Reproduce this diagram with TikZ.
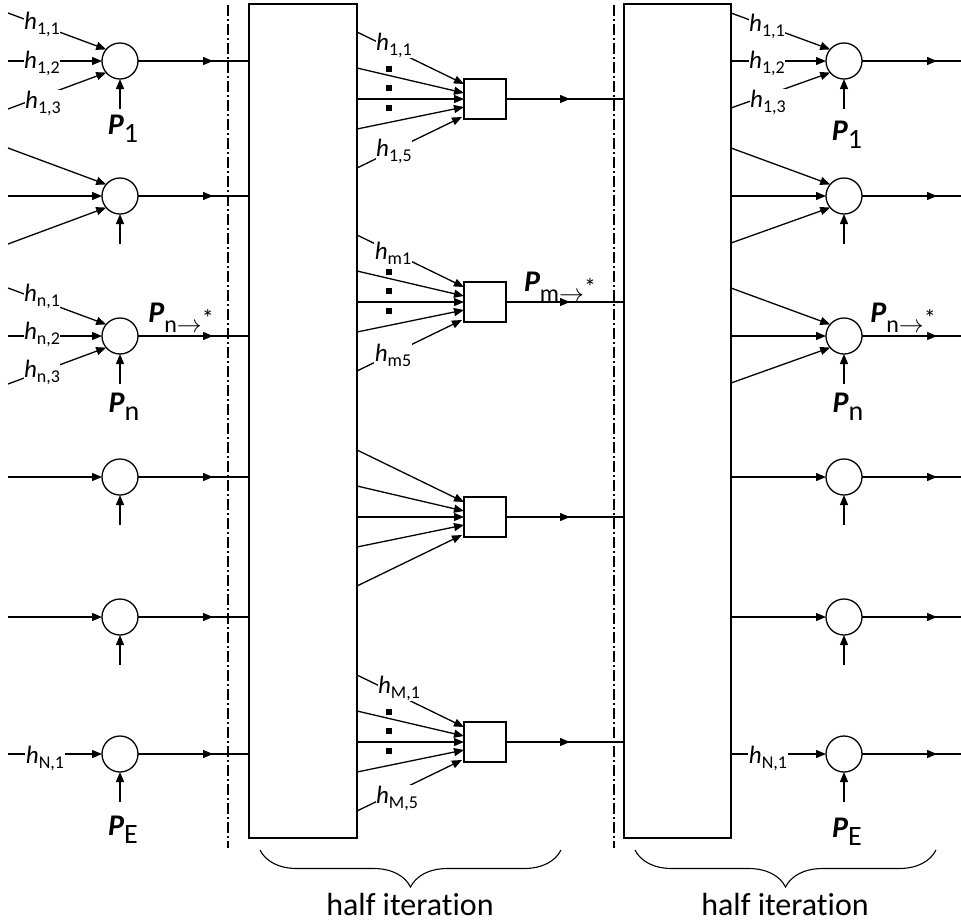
\documentclass[tikz,border=0pt]{standalone}
\usepackage{fontspec}
\setmainfont{Carlito}[Ligatures={NoCommon}]
\usetikzlibrary{arrows.meta,decorations.markings,decorations.pathreplacing,calc}

\newcommand\hlab[2]{{\fontsize{25}{25}\selectfont\itshape #1}{\fontsize{18}{18}\selectfont\raisebox{-5pt}{#2}}}
\newcommand\Plab[1]{{\fontsize{30}{30}\selectfont\bfseries\itshape P}{\fontsize{28}{28}\selectfont\raisebox{-8pt}{#1}}}
\newcommand\Parr[1]{{\fontsize{30}{30}\selectfont\bfseries\itshape P}{\fontsize{24}{24}\selectfont\raisebox{-10pt}{#1$\rightarrow$\raisebox{6pt}{*}}}}

\begin{document}
\begin{tikzpicture}[x=1pt,y=-1pt,
  >={Triangle[length=10pt,width=8pt]},
  ln/.style={line width=1.3pt},
  conn/.style={ln,->},
  sum/.style={circle,draw,line width=1.3pt,minimum size=36pt,inner sep=0pt,outer sep=0pt},
  chk/.style={rectangle,draw,line width=1.3pt,minimum width=42pt,minimum height=40pt,inner sep=0pt,outer sep=0pt},
  blk/.style={rectangle,draw,line width=1.3pt,inner sep=0pt,outer sep=0pt,minimum height=834pt},
  lbl/.style={fill=white,inner sep=0.5pt},
  sqdot/.style={fill=black,minimum size=6pt,inner sep=0pt,outer sep=0pt},
  midarrow/.style={postaction={decorate},decoration={markings,mark=at position #1 with {\arrow{>}}}},
  sepline/.style={line width=1.4pt,dash pattern=on 11pt off 3pt on 2pt off 3pt},
  brc/.style={line width=1.1pt,decorate,decoration={brace,mirror,amplitude=37pt}}
]
\useasboundingbox (0,0) rectangle (961,922);

% separators
\draw[sepline] (228,5) -- (228,848);
\draw[sepline] (614,5) -- (614,848);

% big blocks
\node[blk,minimum width=108pt] (L) at (303,421) {};
\node[blk,minimum width=107pt] (R) at (677.5,421) {};

% circles
\foreach \i/\y in {1/61,2/196,3/336,4/477,5/617,6/754} {
  \node[sum] (l\i) at (120,\y) {};
  \node[sum] (r\i) at (844,\y) {};
  \coordinate (lv\i) at (120,\y+48);
  \coordinate (rv\i) at (844,\y+48);
  \coordinate (ro\i) at (961,\y);
}
\foreach \i in {1,...,6} {
  \draw[ln,midarrow=75pt] (l\i.east) -- (L.west |- l\i);
  \draw[ln,midarrow=75pt] (r\i.east) -- (ro\i);
  \draw[conn] (lv\i) -- (l\i.south);
  \draw[conn] (rv\i) -- (r\i.south);
}

% three-input rows
\foreach \i/\y in {1/61,2/196,3/336} {
  \coordinate (la\i) at (8,\y-48);
  \coordinate (lb\i) at (8,\y);
  \coordinate (lc\i) at (8,\y+48);
  \draw[conn] (la\i) -- (l\i.140);
  \draw[conn] (lb\i) -- (l\i.west);
  \draw[conn] (lc\i) -- (l\i.220);
  \draw[conn] ($(R.east |- r\i)+(0,-48)$) -- (r\i.140);
  \draw[conn] (R.east |- r\i) -- (r\i.west);
  \draw[conn] ($(R.east |- r\i)+(0,47)$) -- (r\i.220);
}
% single-input rows
\foreach \i/\y in {4/477,5/617,6/754} {
  \coordinate (lb\i) at (8,\y);
  \draw[conn] (lb\i) -- (l\i.west);
  \draw[conn] (R.east |- r\i) -- (r\i.west);
}

% check nodes
\foreach \k/\y in {1/99,2/302,3/517,4/742} {
  \node[chk] (s\k) at (485,\y) {};
  \draw[ln,midarrow=64pt] (s\k.east) -- (R.west |- s\k);
  \foreach \a/\b in {-67/-15,-31/-6,0/0,30/8}
    \draw[conn] ($(L.east |- s\k)+(0,\a)$) -- ($(s\k.west)+(0,\b)$);
  \draw[conn] ($(L.east |- s\k)+(0,69)$) -- ($(s\k.west)+(-2,18)$);
}
\foreach \k/\y in {1/99,2/302,4/742}
  \foreach \d/\j in {-30/a,-11/b,9/c}
    \node[sqdot] (dot\k\j) at (389,\y+\d) {};

% labels left
\node[lbl] (tl11) at (42,24) {\hlab{h}{1,1}};
\node[lbl] (tl12) at (42,63) {\hlab{h}{1,2}};
\node[lbl] (tl13) at (43,103) {\hlab{h}{1,3}};
\node[lbl] (tln1) at (42,296) {\hlab{h}{n,1}};
\node[lbl] (tln2) at (42,334) {\hlab{h}{n,2}};
\node[lbl] (tln3) at (42,372) {\hlab{h}{n,3}};
\node[lbl] (tlN1) at (45,758) {\hlab{h}{N,1}};
% labels right
\node[lbl] (tr11) at (767,26) {\hlab{h}{1,1}};
\node[lbl] (tr12) at (767,63) {\hlab{h}{1,2}};
\node[lbl] (tr13) at (768,102) {\hlab{h}{1,3}};
\node[lbl] (trN1) at (768,758) {\hlab{h}{N,1}};
% labels middle
\node[lbl] (ts11) at (394,45) {\hlab{h}{1,1}};
\node[lbl] (ts15) at (394,151) {\hlab{h}{1,5}};
\node[lbl] (tsm1) at (393,253) {\hlab{h}{m1}};
\node[lbl] (tsm5) at (393,355) {\hlab{h}{m5}};
\node[lbl] (tsM1) at (399,688) {\hlab{h}{M,1}};
\node[lbl] (tsM5) at (397,798) {\hlab{h}{M,5}};

% P labels
\node (pl1) at (123,129) {\Plab{1}};
\node (pln) at (124,407) {\Plab{n}};
\node (plE) at (123,830) {\Plab{E}};
\node (pr1) at (847,135) {\Plab{1}};
\node (prn) at (848,407) {\Plab{n}};
\node (prE) at (847,832) {\Plab{E}};
\node (pna) at (181,318) {\Parr{n}};
\node (pnb) at (903,318) {\Parr{n}};
\node (pm) at (560,287) {\Parr{m}};

% braces
\draw[brc] (260,850) -- (561,850);
\draw[brc] (635,850) -- (936,850);
\node[anchor=base] (hi1) at (410,915) {\fontsize{32}{32}\selectfont half iteration};
\node[anchor=base] (hi2) at (785,915) {\fontsize{32}{32}\selectfont half iteration};
\end{tikzpicture}
\end{document}
